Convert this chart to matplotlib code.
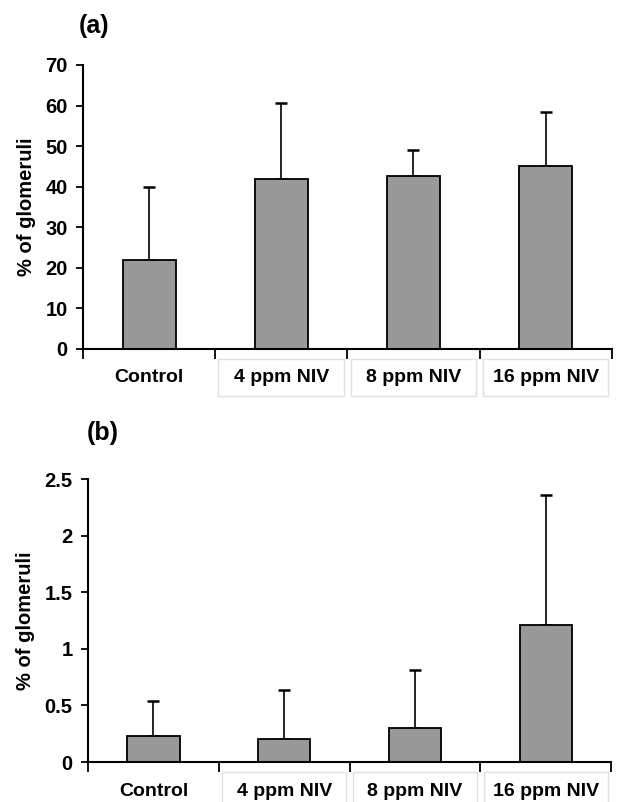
import matplotlib.pyplot as plt
from matplotlib.patches import Rectangle
import matplotlib.transforms as mtransforms
import numpy as np

plt.rcParams['font.family'] = ['Liberation Sans', 'DejaVu Sans']
plt.rcParams['font.weight'] = 'bold'

groups = ["Control", "4 ppm NIV", "8 ppm NIV", "16 ppm NIV"]

# panel (a)
mean_a = [22.0, 42.0, 42.5, 45.0]
err_a = [18.0, 18.5, 6.5, 13.3]

# panel (b)
mean_b = [0.23, 0.20, 0.30, 1.21]
err_b = [0.31, 0.44, 0.51, 1.15]

fig = plt.figure(figsize=(6.17, 8.02), dpi=100)
ax1 = fig.add_axes([0.1345, 0.565, 0.857, 0.354])
ax2 = fig.add_axes([0.1426, 0.0498, 0.848, 0.3528])


def draw(ax, mean, err, ymax, step, tag, tagx, tagy):
    x = np.arange(len(groups))
    ax.bar(x, mean, width=0.40, color="#999999", edgecolor="black",
           linewidth=1.3, zorder=2)
    ax.errorbar(x, mean, yerr=[np.zeros(len(err)), err], fmt="none",
                ecolor="black", elinewidth=1.2, capsize=4, capthick=1.8, zorder=1)
    ax.set_xlim(-0.5, len(groups) - 0.5)
    ax.set_ylim(0, ymax)
    ticks = np.arange(0, ymax + step / 2, step)
    ax.set_yticks(ticks)
    ax.set_yticklabels([f"{t:g}" for t in ticks], fontsize=14.5, fontweight="bold")
    ax.set_xticks(np.arange(len(groups) + 1) - 0.5)
    ax.set_xticklabels([])
    ax.tick_params(axis="y", length=5, width=1.3, direction="out", pad=6)
    ax.tick_params(axis="x", length=7, width=1.3, direction="out")
    for s in ["top", "right"]:
        ax.spines[s].set_visible(False)
    for s in ["left", "bottom"]:
        ax.spines[s].set_linewidth(1.5)
    ax.set_ylabel("% of glomeruli", fontsize=14.5, fontweight="bold", labelpad=7)

    # label boxes below the axis, sized in pixels
    ax_h = ax.get_position().height * fig.get_figheight() * fig.dpi
    trans = mtransforms.blended_transform_factory(ax.transData, ax.transAxes)
    for i, g in enumerate(groups):
        if i > 0:
            ax.add_patch(Rectangle((i - 0.475, -47 / ax_h), 0.95, 37 / ax_h,
                                   transform=trans, facecolor="white",
                                   edgecolor="#e0e0e0", linewidth=1,
                                   clip_on=False, zorder=0))
        ax.text(i, -29 / ax_h, g, transform=trans, ha="center", va="center",
                fontsize=14, fontweight="bold")
    fig.text(tagx, tagy, tag, fontsize=18, fontweight="bold",
             ha="left", va="center")


draw(ax1, mean_a, err_a, 70, 10, "(a)", 0.127, 0.968)
draw(ax2, mean_b, err_b, 2.5, 0.5, "(b)", 0.141, 0.46)

fig.savefig("out.png", dpi=100)
